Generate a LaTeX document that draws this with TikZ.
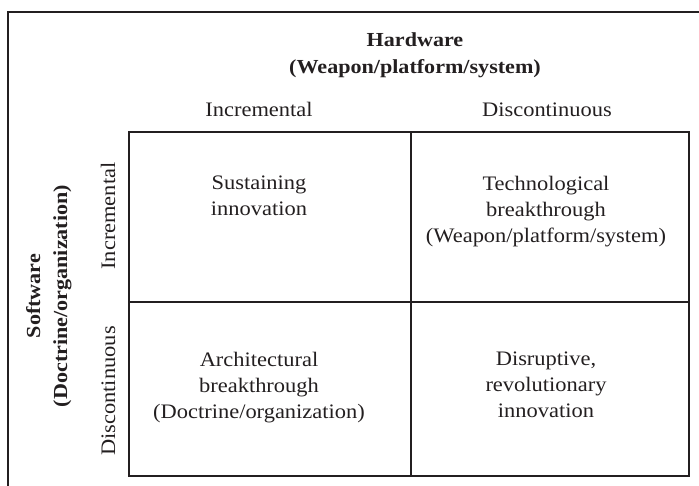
\documentclass[tikz,border=0pt]{standalone}
\usepackage{fontspec}
\setmainfont[FakeStretch=1.09]{Liberation Serif}
\newfontfamily\headfont[FakeStretch=1.11]{Liberation Serif}
\definecolor{ink}{RGB}{35,31,32}
\begin{document}
\begin{tikzpicture}[x=1pt,y=-1pt,
  txt/.style={inner sep=0pt, align=center, text=ink,
    font=\fontsize{20.6}{26}\selectfont},
  head/.style={inner sep=0pt, align=center, text=ink,
    font=\headfont\bfseries\fontsize{19.9}{27}\selectfont},
  rule/.style={line width=2.5pt, draw=ink}]
\useasboundingbox (0,0) rectangle (699,486);
% outer frame, running off the page on the right and bottom
\begin{scope}
  \clip (0,0) rectangle (699,486);
  \draw[line width=1.6pt, draw=ink] (8,500) -- (8,12) -- (710,12);
\end{scope}
% the 2x2 matrix
\draw[rule] (129,132) rectangle (689,476);
\draw[rule] (411,132) -- (411,476);
\draw[rule] (129,302) -- (689,302);
% axis titles
\node[head, anchor=north] (hw) at (415,32) {Hardware\\(Weapon/platform/system)};
\node[head, rotate=90, anchor=north] (sw) at (26,296) {Software\\(Doctrine/organization)};
% column and row headings
\node[txt, anchor=base] (colinc) at (259,117) {Incremental};
\node[txt, anchor=base] (coldis) at (547,117) {Discontinuous};
\node[txt, rotate=90, anchor=base] (rowinc) at (115,216) {Incremental};
\node[txt, rotate=90, anchor=base] (rowdis) at (115,391) {Discontinuous};
% cell contents
\node[txt, anchor=north] (sust) at (259,176) {Sustaining\\innovation};
\node[txt, anchor=north] (tech) at (546,176) {Technological\\breakthrough\\(Weapon/platform/system)};
\node[txt, anchor=north] (arch) at (259,352) {Architectural\\breakthrough\\(Doctrine/organization)};
\node[txt, anchor=north] (disr) at (546,352) {Disruptive,\\revolutionary\\innovation};
\end{tikzpicture}
\end{document}
